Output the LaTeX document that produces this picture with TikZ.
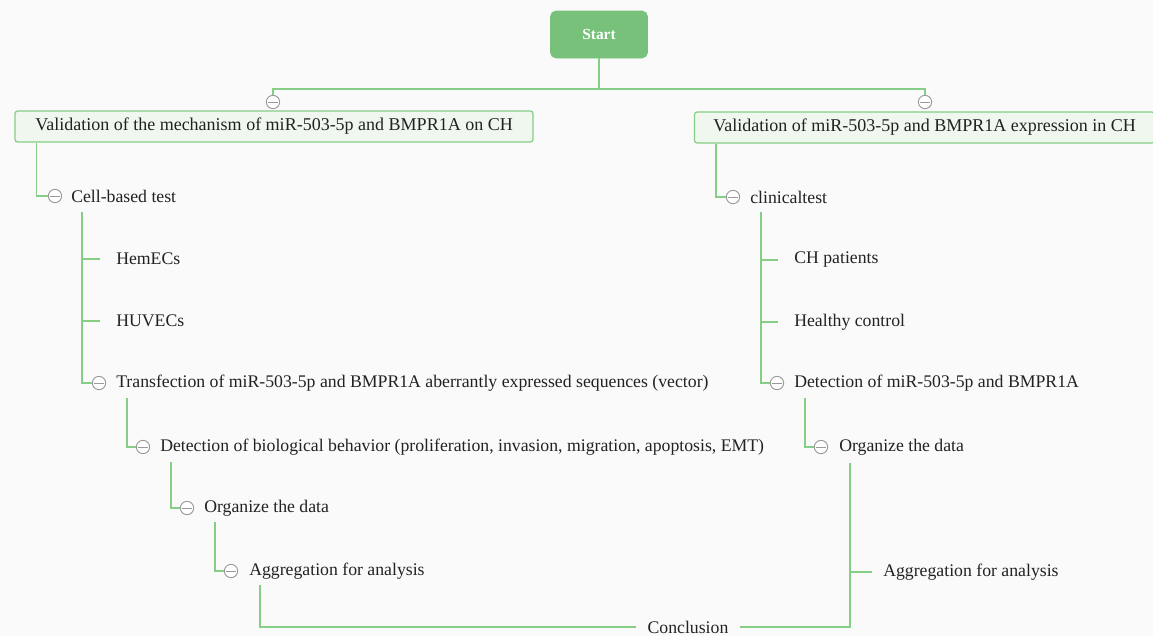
\documentclass[tikz,border=0pt]{standalone}
\usepackage{fontspec}
\setmainfont{Liberation Serif}
\usetikzlibrary{calc}
\definecolor{lg}{HTML}{86CD86}
\definecolor{startg}{HTML}{77C17A}
\definecolor{boxfill}{HTML}{EFF7EF}
\definecolor{bgc}{HTML}{FAFAFA}
\definecolor{txt}{HTML}{222222}
\definecolor{togc}{HTML}{9A9A9A}
\begin{document}
\begin{tikzpicture}[x=0.75pt,y=-0.75pt,
  conn/.style={draw=lg, line width=1pt},
  startbox/.style={fill=startg, draw=startg, rounded corners=4pt, text=white,
    font=\fontsize{11.6pt}{13pt}\selectfont\bfseries, minimum width=72.75pt, minimum height=35.25pt},
  mainbox/.style={fill=boxfill, draw=lg, line width=0.9pt, rounded corners=2pt, text=txt,
    font=\fontsize{13.5pt}{15pt}\selectfont, minimum height=23.25pt, inner sep=0pt},
  item/.style={anchor=west, inner sep=0pt, text=txt, font=\fontsize{13.3pt}{15pt}\selectfont},
  tog/.style={circle, draw=togc, fill=white, line width=0.7pt, minimum size=10pt, inner sep=0pt,
    path picture={\draw[togc, line width=0.7pt]
      ($(path picture bounding box.west)+(1.2pt,0)$) -- ($(path picture bounding box.east)+(-1.2pt,0)$);}}
]
\fill[bgc] (0,0) rectangle (1153,636);
\useasboundingbox (0,0) rectangle (1153,636);

% start
\node[startbox] (start) at (599,34.5) {Start};
\coordinate (j) at (599,89);
\node[tog] (t1) at (273,102) {};
\node[tog] (t2) at (925,102) {};
\draw[conn] (start.south) -- (j);
\draw[conn] (j) -| (t1.north);
\draw[conn] (j) -| (t2.north);

% main boxes
\node[mainbox, minimum width=388.5pt] (L) at (274,126.5) {Validation of the mechanism of miR-503-5p and BMPR1A on CH};
\node[mainbox, minimum width=345pt] (R) at (924.5,127.5) {Validation of miR-503-5p and BMPR1A expression in CH};

% ---------------- left tree
\node[tog] (c1) at (55,196) {};
\node[item] (cell) at (71,196) {Cell-based test};
\draw[conn] ($(L.south west)+(22,0)$) |- (c1.west);

\coordinate (v1) at ($(cell.west)+(11,16)$);
\coordinate (hemT) at (100,259);
\coordinate (huvT) at (100,321);
\node[item] (hem) at (116,259) {HemECs};
\node[item] (huv) at (116,321) {HUVECs};
\node[tog] (c3) at (99,383) {};
\node[item] (trans) at (116,383) {Transfection of miR-503-5p and BMPR1A aberrantly expressed sequences (vector)};
\draw[conn] (v1) |- (c3.west);
\draw[conn] (v1 |- hemT) -- (hemT);
\draw[conn] (v1 |- huvT) -- (huvT);

\coordinate (v2) at ($(trans.west)+(11,15)$);
\node[tog] (c4) at (143,447) {};
\node[item] (det) at (160,447) {Detection of biological behavior (proliferation, invasion, migration, apoptosis, EMT)};
\draw[conn] (v2) |- (c4.west);

\coordinate (v3) at ($(det.west)+(11,15)$);
\node[tog] (c5) at (187,508) {};
\node[item] (org) at (204,508) {Organize the data};
\draw[conn] (v3) |- (c5.west);

\coordinate (v4) at ($(org.west)+(11,14)$);
\node[tog] (c6) at (231,571) {};
\node[item] (agg) at (249,571) {Aggregation for analysis};
\draw[conn] (v4) |- (c6.west);

% conclusion
\node[item, anchor=center, inner xsep=8.25pt] (concl) at (688,627) {Conclusion};
\coordinate (v5) at ($(agg.west)+(11,14)$);
\draw[conn] (v5) |- (concl.west);

% ---------------- right tree
\node[tog] (c7) at (733,197) {};
\node[item] (clin) at (750,197) {clinicaltest};
\draw[conn] ($(R.south west)+(22,0)$) |- (c7.west);

\coordinate (v6) at ($(clin.west)+(11,15)$);
\coordinate (chT) at (778,260);
\coordinate (hcT) at (778,322);
\node[item] (ch) at (794,260) {CH patients};
\node[item] (hc) at (794,322) {Healthy control};
\node[tog] (c8) at (777,383) {};
\node[item] (det2) at (794,383) {Detection of miR-503-5p and BMPR1A};
\draw[conn] (v6) |- (c8.west);
\draw[conn] (v6 |- chT) -- (chT);
\draw[conn] (v6 |- hcT) -- (hcT);

\coordinate (v7) at ($(det2.west)+(11,15)$);
\node[tog] (c9) at (821,447) {};
\node[item] (org2) at (839,447) {Organize the data};
\draw[conn] (v7) |- (c9.west);

\coordinate (v8) at ($(org2.west)+(11,16)$);
\coordinate (aggRT) at (872,572);
\node[item] (aggR) at (883,572) {Aggregation for analysis};
\draw[conn] (v8) |- (concl.east);
\draw[conn] (v8 |- aggRT) -- (aggRT);
\end{tikzpicture}
\end{document}
